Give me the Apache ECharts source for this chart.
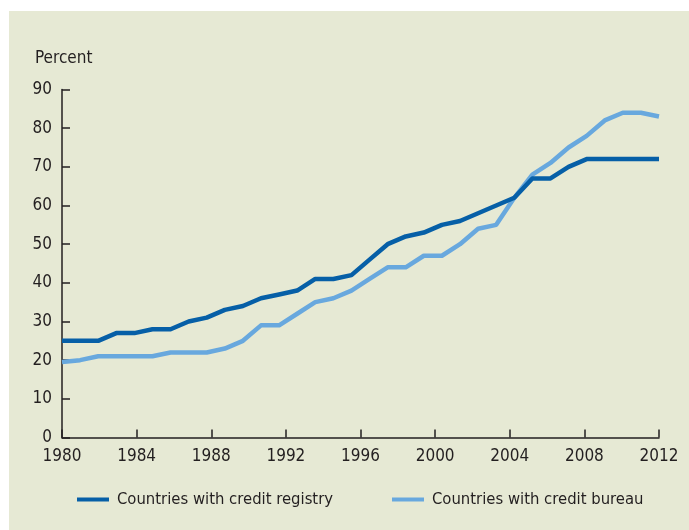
<!DOCTYPE html>
<html>
<head>
<meta charset="utf-8">
<script src="https://cdn.jsdelivr.net/npm/echarts@6/dist/echarts.min.js"></script>
<style>
html,body{margin:0;padding:0;background:#ffffff;}
#chart{width:689px;height:530px;}
</style>
</head>
<body>
<div id="chart"></div>
<script>
// 34 evenly spaced observations spanning 1980–2012
const pointIndex = ['p01','p02','p03','p04','p05','p06','p07','p08','p09','p10','p11','p12','p13','p14','p15','p16','p17','p18','p19','p20','p21','p22','p23','p24','p25','p26','p27','p28','p29','p30','p31','p32','p33','p34'];
const registry = [25,25,25,27,27,28,28,30,31,33,34,36,37,38,41,41,42,46,50,52,53,55,56,58,60,62,67,67,70,72,72,72,72,72];
const bureau = [19.5,20,21,21,21,21,22,22,22,23,25,29,29,32,35,36,38,41,44,44,47,47,50,54,55,62,68,71,75,78,82,84,84,83];
const seriesNames = ['Countries with credit registry','Countries with credit bureau'];
const xTickStart = 1980, xTickEnd = 2012, xTickStep = 4;
const yTickMax = 90, yTickStep = 10;
const yTitle = 'Percent';

const FONT = '"Liberation Sans Narrow","DejaVu Sans Condensed",sans-serif';
const TXT = '#231f20';
const chart = echarts.init(document.getElementById('chart'), null, {renderer:'canvas'});
chart.setOption({
  animation:false,
  backgroundColor:'#ffffff',
  graphic:[{type:'rect', z:-100, shape:{x:9,y:11,width:680,height:519}, style:{fill:'#e6e9d4'}, silent:true}],
  title:{text:yTitle, left:30, top:45, textStyle:{fontFamily:FONT,fontSize:17,fontWeight:'normal',color:TXT}},
  grid:{left:62, right:30, top:89.5, bottom:92.5, containLabel:false},
  xAxis:[
    {type:'value', min:xTickStart, max:xTickEnd, interval:xTickStep,
     axisLine:{show:true,lineStyle:{color:TXT,width:1.5}},
     axisTick:{show:true,inside:true,length:8,lineStyle:{color:TXT,width:1.5}},
     axisLabel:{margin:11,fontFamily:FONT,fontSize:17,color:TXT,formatter:v=>String(v)},
     splitLine:{show:false}},
    {type:'category', data:pointIndex, boundaryGap:false, show:false, position:'top'}
  ],
  yAxis:{type:'value', min:0, max:yTickMax, interval:yTickStep,
     axisLine:{show:true,lineStyle:{color:TXT,width:1.5}},
     axisTick:{show:true,inside:true,length:8,lineStyle:{color:TXT,width:1.5}},
     axisLabel:{margin:10,fontFamily:FONT,fontSize:17,color:TXT},
     splitLine:{show:false}},
  legend:[
    {data:[seriesNames[0]], left:72, top:486, icon:'rect', itemWidth:32, itemHeight:4,
     textStyle:{fontFamily:FONT,fontSize:16.5,color:TXT,padding:[0,0,0,3]}},
    {data:[seriesNames[1]], left:387, top:486, icon:'rect', itemWidth:32, itemHeight:4,
     textStyle:{fontFamily:FONT,fontSize:16.5,color:TXT,padding:[0,0,0,3]}}
  ],
  series:[
    {name:seriesNames[0], type:'line', xAxisIndex:1, data:registry, symbol:'none',
     lineStyle:{color:'#065fa7',width:4.5,join:'round'}, itemStyle:{color:'#065fa7'}, z:3},
    {name:seriesNames[1], type:'line', xAxisIndex:1, data:bureau, symbol:'none',
     lineStyle:{color:'#68a8de',width:4.5,join:'round'}, itemStyle:{color:'#68a8de'}, z:2}
  ]
});
</script>
</body>
</html>
